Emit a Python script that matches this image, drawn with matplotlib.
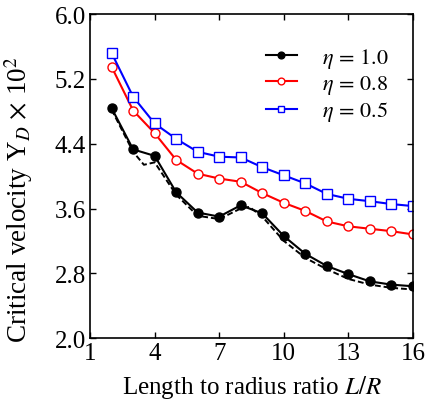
import matplotlib
matplotlib.use("Agg")
import matplotlib.pyplot as plt

plt.rcParams['font.family'] = ['Liberation Serif', 'DejaVu Serif']
plt.rcParams['mathtext.fontset'] = 'stix'

# ------------------------------
# Data
# ------------------------------
lr = [2, 3, 4, 5, 6, 7, 8, 9, 10, 11, 12, 13, 14, 15, 16]
eta_10 = [4.84, 4.33, 4.25, 3.80, 3.55, 3.50, 3.64, 3.54, 3.26, 3.04, 2.89, 2.79, 2.70, 2.66, 2.64]
eta_08 = [5.35, 4.81, 4.53, 4.20, 4.03, 3.97, 3.93, 3.79, 3.67, 3.57, 3.44, 3.38, 3.35, 3.32, 3.28]
eta_05 = [5.52, 4.98, 4.65, 4.46, 4.30, 4.24, 4.23, 4.11, 4.01, 3.91, 3.78, 3.72, 3.69, 3.655, 3.63]
# dashed reference curve for eta = 1.0 (no markers)
lr_ref = [2, 3, 3.5, 4, 5, 6, 7, 8, 8.4, 9, 10, 11, 12, 13, 14, 15, 16]
eta_10_ref = [4.82, 4.30, 4.14, 4.17, 3.77, 3.51, 3.47, 3.60, 3.62, 3.50, 3.20, 2.99, 2.85, 2.73, 2.66, 2.62, 2.60]

fig = plt.figure(figsize=(4.27, 4.10), dpi=100)
ax = fig.add_axes([0.211, 0.173, 0.756, 0.790])

ax.plot(lr_ref, eta_10_ref, color='black', linestyle='--', linewidth=1.4, dashes=(3, 1.5))
ax.plot(lr, eta_10, color='black', marker='o', markersize=6.5, linewidth=1.5,
        label=r'$\eta\,=\,1.0$')
ax.plot(lr, eta_08, color='red', marker='o', markersize=6.5, markerfacecolor='white',
        markeredgewidth=1.0, linewidth=1.5, label=r'$\eta\,=\,0.8$')
ax.plot(lr, eta_05, color='blue', marker='s', markersize=6.5, markerfacecolor='white',
        markeredgewidth=1.0, linewidth=1.5, label=r'$\eta\,=\,0.5$')

ax.set_xlim(1, 16)
ax.set_ylim(2.0, 6.0)
ax.set_xticks([1, 4, 7, 10, 13, 16])
ax.set_yticks([2.0, 2.8, 3.6, 4.4, 5.2, 6.0])
ax.set_yticklabels(['2.0', '2.8', '3.6', '4.4', '5.2', '6.0'])
ax.tick_params(direction='in', top=True, right=True, labelsize=18, length=4, width=1, pad=3)
for s in ax.spines.values():
    s.set_linewidth(1.2)

ax.set_xlabel(r'Length to radius ratio $L/R$', fontsize=18, labelpad=6)
ax.set_ylabel(r'Critical velocity Y$_D$ $\times$ 10$^2$', fontsize=19.5)
ax.yaxis.set_label_coords(-0.172, 0.43)

leg = ax.legend(loc='upper left', frameon=False, fontsize=16, handlelength=1.4,
                handletextpad=1.13, labelspacing=0.15, markerscale=0.75,
                bbox_to_anchor=(0.517, 0.93), borderaxespad=0)

fig.savefig('out.png', dpi=100)
